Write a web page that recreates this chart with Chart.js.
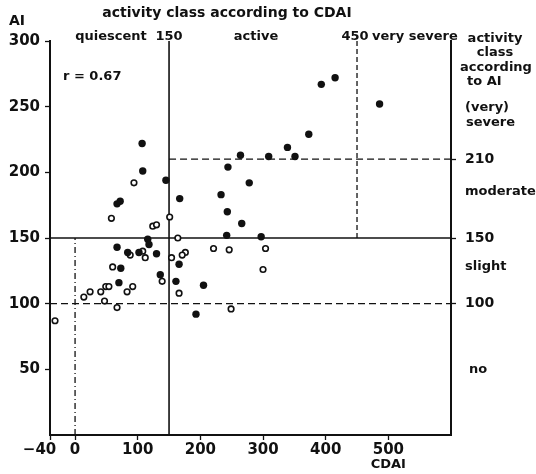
<!DOCTYPE html>
<html>
<head>
<meta charset="utf-8">
<script src="https://cdn.jsdelivr.net/npm/chart.js@4"></script>
<style>
  html, body { margin: 0; padding: 0; background: #fff; }
  #wrap { width: 536px; height: 474px; position: relative; }
</style>
</head>
<body>
<div id="wrap"><canvas id="grafico"></canvas></div>
<script>
// pontos: CDAI (x) x AI (y)
const ativosCDAI = [107, 108, 145, 72, 67, 167, 116, 118, 67, 84, 102, 130, 166, 73, 136, 70, 161,
  233, 243, 266, 244, 264, 278, 309, 339, 351, 373, 242, 297, 205, 193, 393, 415, 486];
const ativosAI = [222, 201, 194, 178, 176, 180, 149, 145, 143, 139, 139, 138, 130, 127, 122, 116, 117,
  183, 170, 161, 204, 213, 192, 212, 219, 212, 229, 152, 151, 114, 92, 267, 272, 252];

const abertosCDAI = [94, 58, 124, 130, 151, 164, 88, 108, 112, 154, 139, 166, 60, 49, 54, 41, 24, 14,
  83, 92, 47, 67, -32, 221, 246, 304, 176, 171, 300, 249];
const abertosAI = [192, 165, 159, 160, 166, 150, 137, 140, 135, 135, 117, 108, 128, 113, 113, 109, 109, 105,
  109, 113, 102, 97, 87, 142, 141, 142, 139, 137, 126, 96];

const xTicks = [-40, 0, 100, 200, 300, 400, 500];
const yTicks = [50, 100, 150, 200, 250, 300];
const aiLimites = [100, 150, 210];
const cdaiLimites = [150, 450];

const FONTE = '"DejaVu Sans", sans-serif';
const COR = '#111';

function pares(xs, ys) {
  return xs.map((v, i) => ({ x: v, y: ys[i] }));
}

function linha(a, b, dash, largura) {
  return {
    type: 'line',
    data: [a, b],
    showLine: true,
    borderColor: COR,
    borderWidth: largura || 1.3,
    borderDash: dash || [],
    pointRadius: 0,
    fill: false,
    order: 2
  };
}

// textos em volta do grafico
const textosPlugin = {
  id: 'textos',
  afterDraw(chart) {
    const { ctx, scales: { x, y } } = chart;
    ctx.save();
    ctx.fillStyle = COR;
    ctx.textBaseline = 'middle';

    ctx.font = 'bold 14px ' + FONTE;
    ctx.textAlign = 'left';
    ctx.fillText('AI', 9, 21);
    ctx.textAlign = 'center';
    ctx.fillText('activity class according to CDAI', 227, 13);

    ctx.font = 'bold 13px ' + FONTE;
    ctx.fillText('quiescent', 111, 37);
    ctx.fillText('150', x.getPixelForValue(150), 37);
    ctx.fillText('active', 256, 37);
    ctx.fillText('450', x.getPixelForValue(450) - 2, 37);
    ctx.textAlign = 'left';
    ctx.fillText('very severe', 372, 37);

    ctx.fillText('r = 0.67', 63, 77);

    // classes AI no lado direito
    ctx.textAlign = 'center';
    ctx.fillText('activity', 495, 39);
    ctx.fillText('class', 495, 53);
    ctx.fillText('according', 496, 68);
    ctx.textAlign = 'left';
    ctx.fillText('to AI', 467, 82);
    ctx.fillText('(very)', 465, y.getPixelForValue(249));
    ctx.fillText('severe', 466, y.getPixelForValue(238));
    ctx.fillText('moderate', 465, y.getPixelForValue(185));
    ctx.fillText('slight', 465, y.getPixelForValue(128));
    ctx.fillText('no', 469, y.getPixelForValue(50));

    ctx.textAlign = 'center';
    ctx.fillText('CDAI', x.getPixelForValue(500), 465);
    ctx.restore();
  }
};

const eixoBase = {
  type: 'linear',
  grid: { display: true, drawOnChartArea: false, drawTicks: true, tickLength: 5, color: COR, tickWidth: 1.3 },
  border: { display: true, color: COR, width: 2 },
  ticks: { color: COR, font: { family: FONTE, size: 15, weight: 'bold' } }
};

window.onload = () => {
  const ctx = document.getElementById('grafico').getContext('2d');

  new Chart(ctx, {
    type: 'scatter',
    data: {
      datasets: [
        {
          label: 'ativos',
          data: pares(ativosCDAI, ativosAI),
          pointRadius: 3.7,
          pointBackgroundColor: COR,
          pointBorderColor: COR,
          pointBorderWidth: 0,
          order: 1
        },
        {
          label: 'quiescentes',
          data: pares(abertosCDAI, abertosAI),
          pointRadius: 2.8,
          pointBackgroundColor: '#fff',
          pointBorderColor: COR,
          pointBorderWidth: 1.6,
          order: 1
        },
        // linhas dos limites das classes
        linha({ x: -40, y: aiLimites[1] }, { x: 600, y: aiLimites[1] }, [], 1.6),
        linha({ x: -40, y: aiLimites[0] }, { x: 600, y: aiLimites[0] }, [7, 4]),
        linha({ x: cdaiLimites[0], y: aiLimites[2] }, { x: 600, y: aiLimites[2] }, [7, 4]),
        linha({ x: cdaiLimites[0], y: 0 }, { x: cdaiLimites[0], y: 300 }, [], 1.6),
        linha({ x: 0, y: 0 }, { x: 0, y: aiLimites[1] }, [6, 3, 1, 3]),
        linha({ x: cdaiLimites[1], y: aiLimites[1] }, { x: cdaiLimites[1], y: 300 }, [5, 3])
      ]
    },
    options: {
      responsive: true,
      maintainAspectRatio: false,
      animation: false,
      layout: { padding: { top: 41, left: 0, right: 0, bottom: 0 } },
      plugins: {
        legend: { display: false },
        tooltip: { enabled: false }
      },
      scales: {
        x: {
          ...eixoBase,
          min: -40,
          max: 600,
          ticks: {
            ...eixoBase.ticks,
            padding: 1,
            maxRotation: 0,
            // o -40 fica deslocado p/ esquerda como no original
            callback: (v) => (v < 0 ? '\u2212' + Math.abs(v) + '    ' : String(v))
          },
          afterBuildTicks: (ax) => { ax.ticks = xTicks.map(v => ({ value: v })); },
          afterFit: (ax) => { ax.height = 39; }
        },
        y: {
          ...eixoBase,
          position: 'left',
          min: 0,
          max: 300,
          ticks: { ...eixoBase.ticks, padding: 5 },
          afterBuildTicks: (ax) => { ax.ticks = yTicks.map(v => ({ value: v })); },
          afterFit: (ax) => { ax.width = 50; }
        },
        y2: {
          ...eixoBase,
          position: 'right',
          min: 0,
          max: 300,
          ticks: { ...eixoBase.ticks, font: { family: FONTE, size: 14, weight: 'bold' }, padding: 9 },
          afterBuildTicks: (ax) => { ax.ticks = aiLimites.map(v => ({ value: v })); },
          afterFit: (ax) => { ax.width = 85; }
        }
      }
    },
    plugins: [textosPlugin]
  });
};
</script>
</body>
</html>
